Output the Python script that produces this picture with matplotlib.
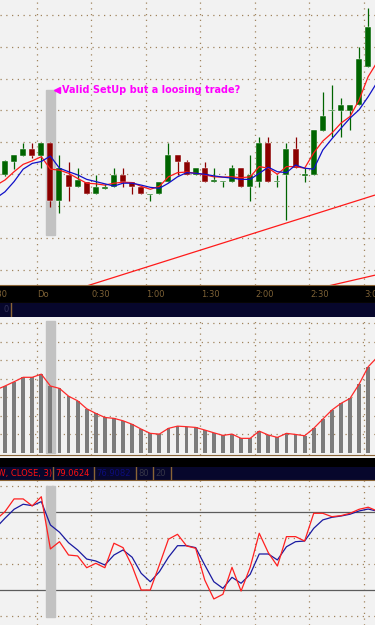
import matplotlib.pyplot as plt
from matplotlib.patches import Rectangle

W, H = 375, 625

# 5-minute bars, index 0..40, prices in points
opens = [129.8, 133.8, 135.8, 137.9, 135.8, 139.9, 121.6, 129.8, 125.9, 127.7,
         123.7, 125.5, 125.9, 129.8, 127.7, 125.9, 123.5, 123.7, 127.7, 136.1,
         133.8, 129.8, 131.9, 127.5, 127.5, 127.7, 131.9, 125.9, 127.7, 139.7,
         127.6, 129.8, 137.9, 129.6, 129.8, 143.7, 149.7, 149.8, 149.8, 151.7,
         163.7]
highs = [134.6, 136.1, 139.7, 139.7, 139.9, 140.0, 136.1, 133.8, 131.9, 127.7,
         129.8, 127.0, 131.9, 131.9, 127.7, 125.9, 123.7, 127.7, 139.7, 136.1,
         134.5, 131.9, 133.8, 131.9, 128.0, 133.0, 131.9, 136.1, 141.8, 141.8,
         129.8, 139.7, 141.8, 131.9, 143.9, 155.9, 158.0, 153.8, 151.7, 170.0,
         182.0]
lows = [129.4, 131.7, 135.8, 135.1, 131.9, 119.7, 117.8, 121.6, 125.9, 123.7,
        123.7, 125.5, 125.9, 125.9, 123.7, 123.7, 121.6, 123.7, 127.7, 129.8,
        129.8, 129.8, 127.7, 127.5, 125.9, 127.7, 125.9, 121.6, 125.9, 127.7,
        125.9, 115.7, 131.9, 127.7, 129.8, 143.7, 141.8, 141.8, 143.9, 151.7,
        163.7]
closes = [134.0, 136.1, 137.9, 135.8, 139.9, 121.6, 131.9, 125.9, 128.1, 123.7,
          125.9, 125.9, 129.8, 127.7, 125.9, 123.7, 123.7, 127.7, 136.1, 133.8,
          129.8, 131.9, 127.7, 128.1, 128.0, 131.9, 125.9, 129.8, 139.7, 127.7,
          127.8, 137.9, 131.9, 129.8, 143.9, 148.1, 149.8, 151.7, 151.7, 166.0,
          176.1]

# indicator series, index -1..41
ma_fast = [126.5, 128.2, 130.8, 133.1, 134.2, 135.5, 131.6, 131.3, 130.3, 128.7,
           127.2, 127.0, 126.6, 127.2, 127.5, 127.4, 126.2, 125.3, 126.2, 129.2,
           130.5, 130.7, 130.3, 129.8, 129.2, 129.1, 129.2, 128.9, 129.2, 132.4,
           131.9, 130.0, 132.4, 132.4, 131.9, 136.7, 140.4, 142.9, 146.0, 148.1,
           153.3, 160.6, 165.2]
ma_slow = [122.5, 124.5, 127.7, 131.6, 133.4, 134.0, 135.7, 131.9, 130.8, 129.8,
           128.4, 127.7, 127.0, 126.3, 127.2, 127.2, 126.6, 125.9, 125.6, 127.2,
           129.2, 130.5, 130.3, 130.0, 129.5, 129.1, 128.8, 128.4, 128.4, 130.3,
           132.2, 130.8, 130.5, 132.9, 131.9, 131.6, 137.6, 141.1, 144.4, 147.6,
           150.2, 154.3, 158.9]
hist = [3.40, 3.61, 3.84, 4.08, 4.08, 4.25, 3.61, 3.48, 3.06, 2.81, 2.38, 2.13,
        1.91, 1.86, 1.73, 1.54, 1.28, 1.05, 1.01, 1.32, 1.44, 1.41, 1.37, 1.23,
        1.08, 0.94, 1.01, 0.78, 0.78, 1.17, 0.96, 0.83, 1.05, 0.99, 0.92, 1.32,
        1.82, 2.31, 2.67, 2.94, 3.71, 4.65, 5.17]
stoch_k = [74.3, 80.5, 90.3, 90.3, 84.9, 92.0, 51.7, 57.3, 47.0, 46.3, 37.2,
           40.6, 37.2, 56.1, 52.7, 38.5, 20.0, 20.0, 39.3, 59.2, 63.0, 54.0,
           52.2, 27.7, 13.1, 16.7, 37.5, 19.2, 37.5, 63.8, 48.8, 38.5, 61.2,
           61.2, 57.8, 79.2, 79.2, 76.6, 77.4, 79.2, 82.3, 83.9, 81.0]
stoch_d = [68.0, 75.4, 82.3, 86.2, 85.1, 88.2, 70.2, 64.6, 56.5, 50.9, 43.9,
           42.4, 39.3, 47.0, 50.9, 45.3, 32.9, 26.4, 34.1, 45.3, 54.2, 54.2,
           52.7, 39.3, 26.4, 21.3, 29.8, 25.2, 32.1, 47.8, 47.8, 43.2, 53.4,
           57.3, 57.8, 67.6, 74.1, 76.1, 77.1, 78.5, 81.0, 82.5, 80.8]

# trend lines (bar index, price)
trend1_x, trend1_y = [9.0, 42.0], [95.0, 124.6]
trend2_x, trend2_y = [35.6, 42.0], [95.0, 99.2]

time_labels = ['23:30', 'Do', '0:30', '1:00', '1:30', '2:00', '2:30', '3:00']
stoch_box = ['Stoch(5,3,3, LOW, CLOSE, 3)', '79.0624', '76.9082', '80', '20']
stoch_box_colors = ['#ff1010', '#ff1010', '#0c0c7a', '#363648', '#363648']
stoch_levels = [20, 80]
signal_bar = 5
note = 'Valid SetUp but a loosing trade?'

BG = '#f2f2f2'
GRID = '#a0845e'
BROWN = '#8a6436'
NAVY = '#07072c'
XLIM = (-0.55, 40.75)
grid_x = [3.5 + 6 * k for k in range(-1, 7)]
idx = list(range(len(opens)))
idx_ext = list(range(-1, len(ma_fast) - 1))

fig = plt.figure(figsize=(W / 100, H / 100), dpi=100)
fig.patch.set_facecolor(BG)


def panel(top, bottom, bar_x=True):
    ax = fig.add_axes([0, 1 - bottom / H, 1, (bottom - top) / H])
    ax.set_xlim(*XLIM if bar_x else (0, W))
    ax.set_xticks([])
    ax.set_yticks([])
    for s in ax.spines.values():
        s.set_visible(False)
    ax.set_facecolor(BG)
    return ax


def dotted(ax, levels):
    for v in grid_x:
        ax.axvline(v, color=GRID, lw=0.9, ls=(0, (1, 3.6)), zorder=0)
    for v in levels:
        ax.axhline(v, color=GRID, lw=0.9, ls=(0, (1, 3.6)), zorder=0)


# ---- price panel
ax1 = panel(0, 285)
ax1.set_ylim(95.3, 184.6)
dotted(ax1, [100 + 10 * k for k in range(9)])
ax1.add_patch(Rectangle((signal_bar - 0.5, 111.0), 1.0, 45.4,
                        color='#c2c2c2', zorder=1))
for i in idx:
    up = closes[i] >= opens[i]
    c = '#006400' if up else '#8b0000'
    ax1.vlines(i, lows[i], highs[i], color=c, lw=0.9, zorder=2)
    lo, hi = sorted([opens[i], closes[i]])
    ax1.bar(i, max(hi - lo, 0.35), bottom=lo, width=0.66, color=c,
            edgecolor='white', linewidth=0.3, zorder=3)
ax1.plot(idx_ext, ma_fast, color='#ff1a1a', lw=0.9, zorder=4)
ax1.plot(idx_ext, ma_slow, color='#1010c8', lw=0.9, zorder=4)
ax1.plot(trend1_x, trend1_y, color='#ff1a1a', lw=0.9, zorder=4)
ax1.plot(trend2_x, trend2_y, color='#ff1a1a', lw=0.9, zorder=4)
ax1.plot(signal_bar + 0.75, 156.3, marker='<', ms=4.5, color='#ff00ff',
         zorder=5)
ax1.text(signal_bar + 1.25, 156.3, note, color='#ff00ff', fontsize=7,
         fontweight='bold', ha='left', va='center', zorder=5)

# ---- time strip
ax_t = panel(285, 303)
ax_t.set_facecolor('black')
ax_t.set_ylim(0, 1)
for s in ('top', 'bottom'):
    ax_t.spines[s].set_visible(True)
    ax_t.spines[s].set_color(BROWN)
for k, lab in enumerate(time_labels):
    ax_t.text(grid_x[k] + 0.08, 0.45, lab, color='#7e6236', fontsize=6,
              ha='left', va='center', clip_on=True)

ax_n1 = panel(303, 317, bar_x=False)
ax_n1.set_facecolor(NAVY)
ax_n1.set_ylim(0, 1)
ax_n1.text(3, 0.5, '0', color='#34345a', fontsize=6, ha='left', va='center')
ax_n1.axvline(11, color=BROWN, lw=1)

# ---- histogram panel
ax2 = panel(317, 455)
ax2.set_ylim(-0.12, 7.34)
dotted(ax2, range(1, 8))
ax2.add_patch(Rectangle((signal_bar - 0.5, 0), 1.0, 7.12,
                        color='#c2c2c2', zorder=1))
ax2.bar(idx_ext, hist, width=0.42, color='#7c7c7c', zorder=2)
ax2.plot(idx_ext, hist, color='#ff2a2a', lw=0.9, zorder=3)
ax2.spines['bottom'].set_visible(True)
ax2.spines['bottom'].set_color(BROWN)

ax_t2 = panel(457.5, 467)
ax_t2.set_facecolor('black')

ax_n2 = panel(467, 480, bar_x=False)
ax_n2.set_facecolor(NAVY)
ax_n2.set_ylim(0, 1)
box_edges = [53, 94, 136, 153, 171]
box_starts = [0, 53, 94, 136, 153]
for k, (txt, col) in enumerate(zip(stoch_box, stoch_box_colors)):
    if k == 0:
        ax_n2.text(box_edges[0] - 1, 0.5, txt, color=col, fontsize=6,
                   ha='right', va='center', clip_on=True)
    else:
        ax_n2.text(box_starts[k] + 2.5, 0.5, txt, color=col, fontsize=6,
                   ha='left', va='center', clip_on=True)
for e in box_edges:
    ax_n2.axvline(e, color=BROWN, lw=1)

# ---- stochastic panel
ax3 = panel(480, 625)
ax3.set_ylim(-7.0, 104.9)
dotted(ax3, [0, 40, 60, 100])
ax3.spines['top'].set_visible(True)
ax3.spines['top'].set_color(BROWN)
for v in stoch_levels:
    ax3.axhline(v, color='#5c5c5c', lw=0.9, zorder=1)
ax3.add_patch(Rectangle((signal_bar - 0.5, -0.8), 1.0, 101.4,
                        color='#c2c2c2', zorder=1))
ax3.plot(idx_ext, stoch_d, color='#1a1aa0', lw=0.9, zorder=3)
ax3.plot(idx_ext, stoch_k, color='#ff2020', lw=0.9, zorder=3)

fig.savefig('out.png', dpi=100, facecolor=BG)
